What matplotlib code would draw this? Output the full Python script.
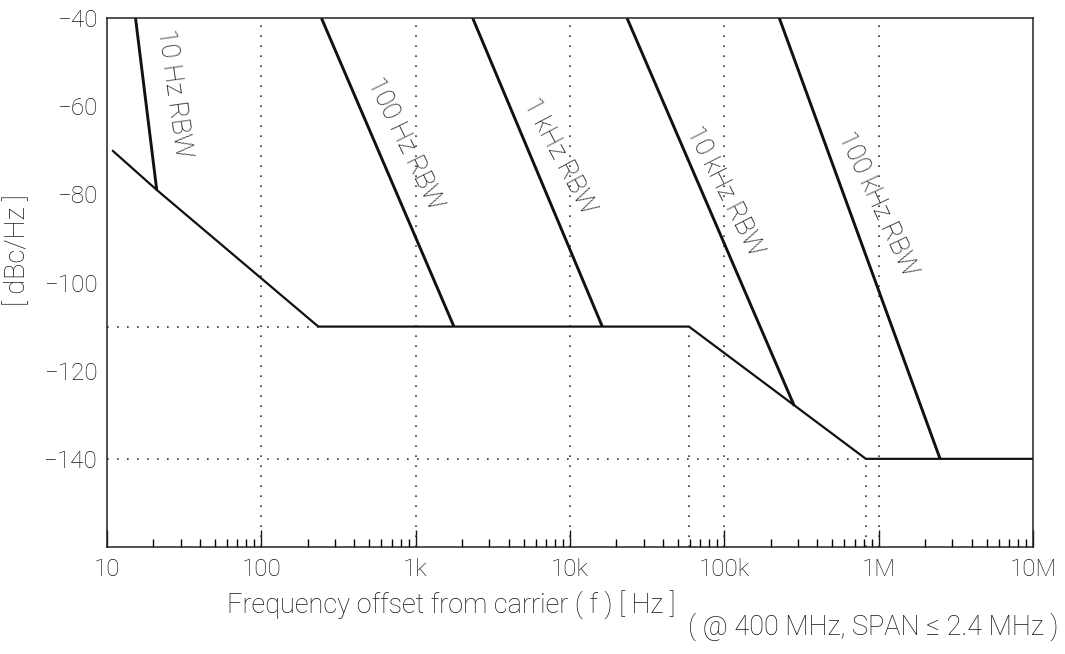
import numpy as np
import matplotlib
matplotlib.use("Agg")
import matplotlib.pyplot as plt
from matplotlib.ticker import LogLocator, FixedLocator, NullFormatter

plt.rcParams['font.family'] = ['Roboto', 'DejaVu Sans']
plt.rcParams['font.weight'] = 'light'

# ---- data ----
# noise floor (dBc/Hz) vs offset frequency (Hz)
floor_f = [10.8, 21, 234, 59e3, 826e3, 1e7]
floor_db = [-70, -79, -110, -110, -140, -140]

# RBW limit lines: (top f, bottom f, bottom dB)
rbw_names = ["10 Hz RBW", "100 Hz RBW", "1 kHz RBW", "10 kHz RBW", "100 kHz RBW"]
rbw_f_top = [15.3, 245, 2340, 23.4e3, 227e3]
rbw_f_bot = [21, 1770, 16.2e3, 284e3, 2.5e6]
rbw_db_bot = [-79, -110, -110, -128, -140]

# label positions / rotations for RBW text
lab_f = [27.3, 851, 8.5e3, 101e3, 986e3]
lab_db = [-57, -68.6, -71.4, -79.4, -82.3]
lab_rot = [-82, -64, -62, -63, -65]

xticks = [10, 100, 1e3, 1e4, 1e5, 1e6, 1e7]
xtick_labels = ["10", "100", "1k", "10k", "100k", "1M", "10M"]
yticks = [-40, -60, -80, -100, -120, -140]

ink = "#151515"

W, H = 1065, 654
fig = plt.figure(figsize=(W / 100, H / 100), dpi=100)
ax = fig.add_axes([107 / W, 1 - 547 / H, (1033 - 107) / W, (547 - 18) / H])

ax.set_xscale("log")
ax.set_xlim(10, 1e7)
ax.set_ylim(-160, -40)

dot = dict(color="#333333", lw=1.2, ls=(0, (1, 5)))

# full-height grid lines
for f in xticks[1:-1]:
    ax.axvline(f, **dot)
# partial dotted guide lines to the corners
ax.plot([10, floor_f[2]], [-110, -110], **dot)
ax.plot([10, floor_f[4]], [-140, -140], **dot)
ax.plot([floor_f[3], floor_f[3]], [-160, -110], **dot)
ax.plot([floor_f[4], floor_f[4]], [-160, -140], **dot)

# noise floor
ax.plot(floor_f, floor_db, color="#111111", lw=1.6, solid_capstyle="butt")

# RBW lines
for ft, fb, db in zip(rbw_f_top, rbw_f_bot, rbw_db_bot):
    ax.plot([ft, fb], [-40, db], color="#111111", lw=2.1, solid_capstyle="butt")

for name, f, db, rot in zip(rbw_names, lab_f, lab_db, lab_rot):
    ax.text(f, db, name, rotation=rot, rotation_mode="anchor",
            ha="center", va="center", fontsize=19, color=ink)

ax.xaxis.set_major_locator(FixedLocator(xticks))
ax.set_xticklabels(xtick_labels)
ax.xaxis.set_minor_locator(LogLocator(base=10, subs=np.arange(2, 10)))
ax.xaxis.set_minor_formatter(NullFormatter())
ax.set_yticks(yticks)

ax.tick_params(axis="x", which="major", direction="in", length=12, width=1,
               pad=8, labelsize=17.5, colors=ink)
ax.tick_params(axis="x", which="minor", direction="in", length=6, width=1)
ax.tick_params(axis="y", which="major", direction="in", length=0, pad=7,
               labelsize=17.5, colors=ink)

for s in ax.spines.values():
    s.set_color("#222222")
    s.set_linewidth(1.1)

fig.text(18 / W, 1 - 250 / H, "[ dBc/Hz ]", rotation=90, ha="center", va="center",
         fontsize=19.5, color=ink)
fig.text(451 / W, 1 - 605 / H, "Frequency offset from carrier ( f ) [ Hz ]",
         ha="center", va="center", fontsize=19.5, color=ink)
fig.text(873 / W, 1 - 627 / H, "( @ 400 MHz, SPAN \u2264 2.4 MHz )",
         ha="center", va="center", fontsize=19.5, color=ink)

fig.savefig("out.png", dpi=100)
